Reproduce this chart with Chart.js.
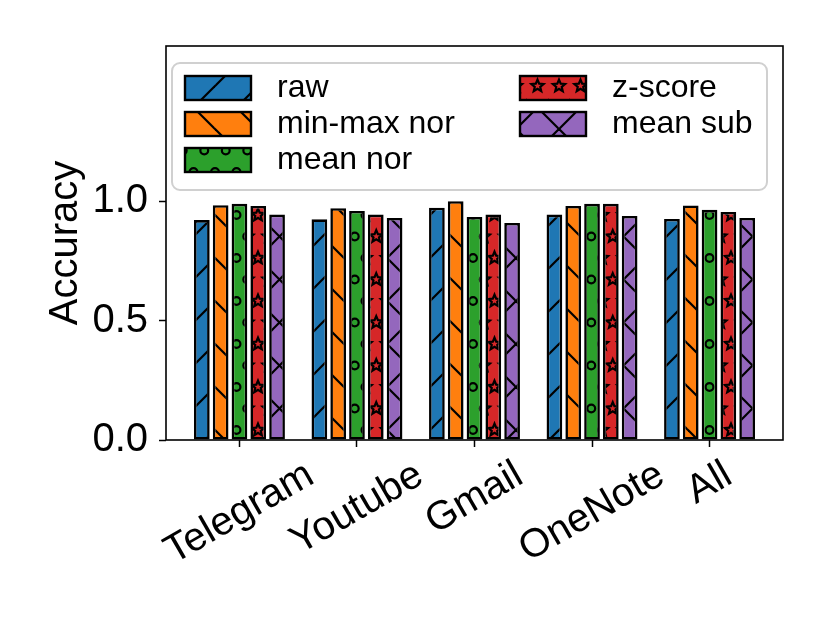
<!DOCTYPE html>
<html>
<head>
<meta charset="utf-8">
<script src="https://cdn.jsdelivr.net/npm/chart.js@4.4.1/dist/chart.umd.min.js"></script>
<style>
  body { margin: 0; background: #fff; }
  canvas { display: block; }
</style>
</head>
<body>
<canvas id="myChart" width="830" height="623"></canvas>
<script>
// data
var categories = ['Telegram', 'Youtube', 'Gmail', 'OneNote', 'All'];
var seriesNames = ['raw', 'min-max nor', 'mean nor', 'z-score', 'mean sub'];
var rawValues = [0.921, 0.924, 0.973, 0.944, 0.926];
var minMaxValues = [0.983, 0.971, 1.000, 0.980, 0.982];
var meanNorValues = [0.989, 0.959, 0.934, 0.989, 0.964];
var zScoreValues = [0.980, 0.944, 0.944, 0.989, 0.955];
var meanSubValues = [0.944, 0.930, 0.909, 0.938, 0.930];
var yTickValues = [0.0, 0.5, 1.0];

var seriesValues = [rawValues, minMaxValues, meanNorValues, zScoreValues, meanSubValues];
var colors = ['#1f77b4', '#ff7f0e', '#2ca02c', '#d62728', '#9467bd'];
var hatches = ['/', '\\', 'o', '*', 'x'];

var FONT = "'Liberation Sans', Arial, Helvetica, sans-serif";
Chart.defaults.font.family = FONT;

// hatch tiles, anchored on the canvas origin
var TILE = 43, STEP = 21.5;
function starPath(g, cx, cy, r) {
    g.beginPath();
    for (var i = 0; i < 10; i++) {
        var rr = (i % 2 === 0) ? r : r * 0.45;
        var a = -Math.PI / 2 + i * Math.PI / 5;
        var px = cx + rr * Math.cos(a), py = cy + rr * Math.sin(a);
        if (i === 0) g.moveTo(px, py); else g.lineTo(px, py);
    }
    g.closePath();
}
function makeHatch(color, kind) {
    var c = document.createElement('canvas');
    c.width = TILE; c.height = TILE;
    var g = c.getContext('2d');
    g.fillStyle = color;
    g.fillRect(0, 0, TILE, TILE);
    g.strokeStyle = '#000';
    g.lineWidth = 2.2;
    var k;
    if (kind === '/' || kind === 'x') {
        for (k = 0; k <= 2; k++) {
            var c0 = k * TILE;
            g.beginPath(); g.moveTo(c0 + 5, -5); g.lineTo(c0 - TILE - 5, TILE + 5); g.stroke();
        }
    }
    if (kind === '\\' || kind === 'x') {
        for (k = -1; k <= 1; k++) {
            var d0 = k * TILE;
            g.beginPath(); g.moveTo(d0 - 5, -5); g.lineTo(d0 + TILE + 5, TILE + 5); g.stroke();
        }
    }
    if (kind === 'o' || kind === '*') {
        for (var r = -1; r <= 2; r++) {
            var y = r * STEP;
            for (var j = -1; j <= 2; j++) {
                var x = (r % 2 === 0) ? j * STEP : STEP / 2 + j * STEP;
                if (kind === 'o') {
                    g.beginPath(); g.arc(x, y, 3.9, 0, Math.PI * 2); g.stroke();
                } else {
                    starPath(g, x, y, 6.4); g.stroke();
                }
            }
        }
    }
    return g.createPattern(c, 'repeat');
}

var ctx = document.getElementById('myChart').getContext('2d');
var patterns = colors.map(function(col, i) { return makeHatch(col, hatches[i]); });

var datasets = seriesNames.map(function(name, i) {
    return {
        label: name,
        data: seriesValues[i].map(function(v, k) { return { x: k, y: v }; }),
        backgroundColor: patterns[i],
        borderColor: '#000',
        borderWidth: 2.6,
        borderSkipped: false,
        categoryPercentage: 0.8,
        barPercentage: 0.835
    };
});

// frame, rotated category labels and legend box
var extrasPlugin = {
    id: 'extras',
    afterDraw: function(chart) {
        var g = chart.ctx;
        var area = chart.chartArea;
        g.save();
        g.strokeStyle = '#000';
        g.lineWidth = 1.6;
        g.strokeRect(area.left, area.top, area.right - area.left, area.bottom - area.top);

        // x labels, rotated 30 deg, centred under each tick
        var xs = chart.scales.x;
        g.font = '40px ' + FONT;
        g.fillStyle = '#000';
        g.textAlign = 'center';
        g.textBaseline = 'middle';
        var ang = Math.PI / 6;
        var top = area.bottom + 13;
        categories.forEach(function(lab, i) {
            var w = g.measureText(lab).width;
            var h = 44.7;
            var bh = w * Math.sin(ang) + h * Math.cos(ang);
            var px = xs.getPixelForValue(i);
            g.save();
            g.translate(px, top + bh / 2);
            g.rotate(-ang);
            g.fillText(lab, 0, 0);
            g.restore();
        });

        // legend
        var lx = 172, ly = 63, lw = 595, lh = 127, rad = 8;
        g.beginPath();
        g.moveTo(lx + rad, ly);
        g.arcTo(lx + lw, ly, lx + lw, ly + lh, rad);
        g.arcTo(lx + lw, ly + lh, lx, ly + lh, rad);
        g.arcTo(lx, ly + lh, lx, ly, rad);
        g.arcTo(lx, ly, lx + lw, ly, rad);
        g.closePath();
        g.fillStyle = 'rgba(255,255,255,0.8)';
        g.fill();
        g.strokeStyle = '#d0d0d0';
        g.lineWidth = 2;
        g.stroke();

        g.font = '32px ' + FONT;
        g.textAlign = 'left';
        g.textBaseline = 'middle';
        seriesNames.forEach(function(name, i) {
            var col = i < 3 ? 0 : 1;
            var row = i < 3 ? i : i - 3;
            var bx = col === 0 ? 185 : 520;
            var cy = 88 + row * 36;
            g.fillStyle = patterns[i];
            g.fillRect(bx, cy - 12, 66, 24);
            g.strokeStyle = '#000';
            g.lineWidth = 2.4;
            g.strokeRect(bx, cy - 12, 66, 24);
            g.fillStyle = '#000';
            g.fillText(name, col === 0 ? 277 : 612, cy);
        });
        g.restore();
    }
};

var myChart = new Chart(ctx, {
    type: 'bar',
    data: { datasets: datasets },
    plugins: [extrasPlugin],
    options: {
        responsive: false,
        animation: false,
        events: [],
        layout: { padding: { left: 0, right: 47, top: 46, bottom: 0 } },
        plugins: {
            legend: { display: false },
            tooltip: { enabled: false }
        },
        scales: {
            x: {
                type: 'linear',
                min: -0.625,
                max: 4.625,
                offset: false,
                afterBuildTicks: function(scale) {
                    scale.ticks = categories.map(function(c, i) { return { value: i }; });
                },
                afterFit: function(scale) { scale.height = 183; },
                ticks: { display: false },
                grid: { offset: false, drawOnChartArea: false, drawTicks: true, tickLength: 7, tickColor: '#000', tickWidth: 1.5 },
                border: { display: false }
            },
            y: {
                min: 0,
                max: 1.65,
                afterBuildTicks: function(scale) {
                    scale.ticks = yTickValues.map(function(v) { return { value: v }; });
                },
                afterFit: function(scale) { scale.width = 166; },
                ticks: {
                    color: '#000',
                    font: { size: 40 },
                    padding: 11,
                    callback: function(v) { return Number(v).toFixed(1); }
                },
                title: {
                    display: true,
                    text: 'Accuracy',
                    color: '#000',
                    font: { size: 40 },
                    padding: { top: 42, bottom: 0 }
                },
                grid: { drawOnChartArea: false, drawTicks: true, tickLength: 7, tickColor: '#000', tickWidth: 1.5 },
                border: { display: false }
            }
        }
    }
});
</script>
</body>
</html>
